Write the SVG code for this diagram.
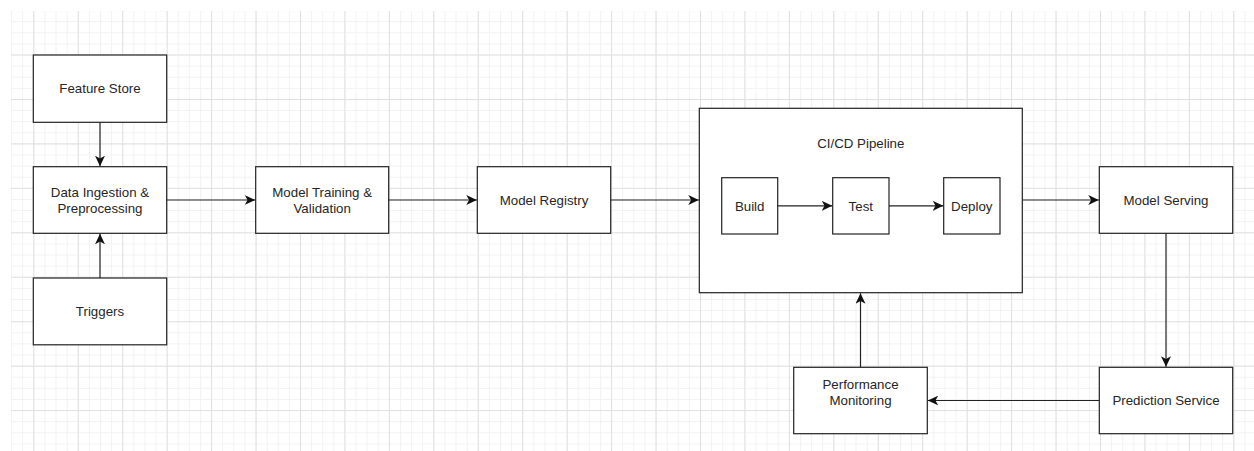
<svg xmlns="http://www.w3.org/2000/svg" width="1254" height="451" viewBox="0 0 1254 451">
<style>
.box{fill:#ffffff;stroke:#222222;stroke-width:1.2}
.lbl{font-family:"Liberation Sans",Arial,sans-serif;font-size:13.3px;fill:#262626;text-anchor:middle}
.edge{fill:none;stroke:#222222;stroke-width:1.2}
</style>
<defs>
<pattern id="minor" x="0" y="10.1" width="11.111" height="11.111" patternUnits="userSpaceOnUse">
<path d="M0,0.5 H11.111 M0.5,0 V11.111" fill="none" stroke="#f2f2f2" stroke-width="1"/>
</pattern>
<pattern id="major" x="33.33" y="10.1" width="44.444" height="44.444" patternUnits="userSpaceOnUse">
<path d="M0,0.5 H44.444 M0.5,0 V44.444" fill="none" stroke="#e0e0e0" stroke-width="1"/>
</pattern>
<marker id="arr" markerUnits="userSpaceOnUse" markerWidth="12" markerHeight="11" refX="10.5" refY="5" orient="auto" viewBox="0 0 12 11">
<path d="M0,0 L10.5,5 L0,10 L2.8,5 z" fill="#111111"/>
</marker>
</defs>
<rect width="1254" height="451" fill="#ffffff"/>
<rect x="11" y="11" width="1243" height="440" fill="url(#minor)"/>
<rect x="11" y="11" width="1243" height="440" fill="url(#major)"/>

<g id="feature-store">
<rect class="box" x="33.3" y="55" width="133.4" height="67.3"/>
<text class="lbl" x="100" y="93.4">Feature Store</text>
</g>
<g id="data-ingestion">
<rect class="box" x="33.3" y="166.7" width="133.4" height="66.6"/>
<text class="lbl" x="100" y="197.1">Data Ingestion &amp;</text>
<text class="lbl" x="100" y="213.1">Preprocessing</text>
</g>
<g id="triggers">
<rect class="box" x="33.3" y="278" width="133.4" height="66.8"/>
<text class="lbl" x="100" y="316.2">Triggers</text>
</g>
<g id="model-training">
<rect class="box" x="255.7" y="166.7" width="133" height="66.6"/>
<text class="lbl" x="322.2" y="197.1">Model Training &amp;</text>
<text class="lbl" x="322.2" y="213.1">Validation</text>
</g>
<g id="model-registry">
<rect class="box" x="477.3" y="166.7" width="133.4" height="66.6"/>
<text class="lbl" x="544" y="205">Model Registry</text>
</g>
<g id="cicd-pipeline">
<rect class="box" x="699.3" y="108.3" width="323" height="184.4"/>
<text class="lbl" x="860.8" y="148.1">CI/CD Pipeline</text>
</g>
<g id="build">
<rect class="box" x="721.7" y="177.7" width="56" height="56.3"/>
<text class="lbl" x="749.7" y="210.6">Build</text>
</g>
<g id="test">
<rect class="box" x="832.7" y="177.7" width="56.3" height="56.3"/>
<text class="lbl" x="860.8" y="210.6">Test</text>
</g>
<g id="deploy">
<rect class="box" x="943.7" y="177.7" width="56.3" height="56.3"/>
<text class="lbl" x="971.8" y="210.6">Deploy</text>
</g>
<g id="model-serving">
<rect class="box" x="1099.3" y="166.7" width="133.4" height="66.6"/>
<text class="lbl" x="1166" y="205">Model Serving</text>
</g>
<g id="prediction-service">
<rect class="box" x="1099.3" y="367.3" width="133.4" height="66.4"/>
<text class="lbl" x="1166" y="405.3">Prediction Service</text>
</g>
<g id="performance-monitoring">
<rect class="box" x="793.7" y="367.3" width="133.6" height="66.4"/>
<text class="lbl" x="860.5" y="388.8">Performance</text>
<text class="lbl" x="860.5" y="404.8">Monitoring</text>
</g>

<g id="connectors">
<path class="edge" d="M100,122.3 V166.2" marker-end="url(#arr)"/>
<path class="edge" d="M100,278 V233.8" marker-end="url(#arr)"/>
<path class="edge" d="M166.7,200 H255.2" marker-end="url(#arr)"/>
<path class="edge" d="M388.7,200 H476.8" marker-end="url(#arr)"/>
<path class="edge" d="M610.7,200 H698.8" marker-end="url(#arr)"/>
<path class="edge" d="M1022.3,200 H1098.8" marker-end="url(#arr)"/>
<path class="edge" d="M777.7,205.8 H832.2" marker-end="url(#arr)"/>
<path class="edge" d="M889,205.8 H943.2" marker-end="url(#arr)"/>
<path class="edge" d="M1166,233.3 V366.8" marker-end="url(#arr)"/>
<path class="edge" d="M1099.3,400.5 H927.8" marker-end="url(#arr)"/>
<path class="edge" d="M860.5,367.3 V293.2" marker-end="url(#arr)"/>
</g>
</svg>
